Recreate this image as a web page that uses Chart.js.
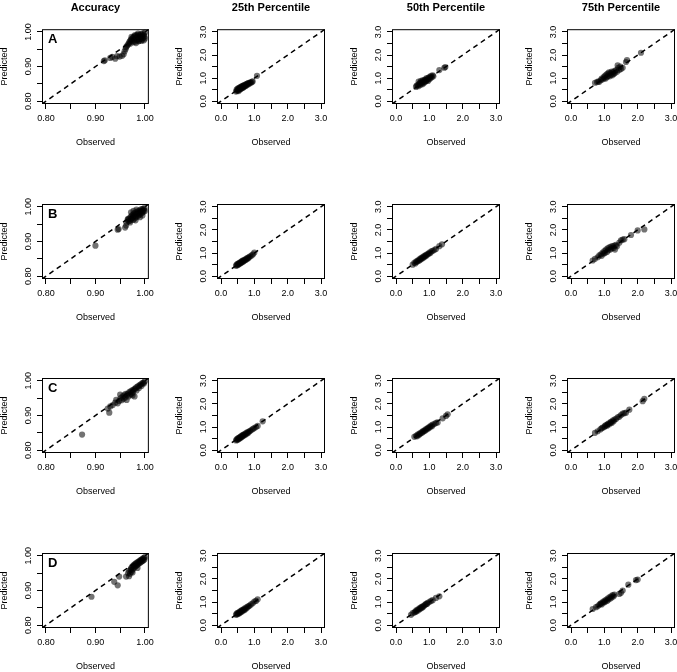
<!DOCTYPE html>
<html><head><meta charset="utf-8">
<script src="https://cdn.jsdelivr.net/npm/chart.js@4/dist/chart.umd.min.js"></script>
<style>
body{margin:0;width:677px;height:672px;overflow:hidden;background:#fff;position:relative}
.p{position:absolute}
</style></head><body>
<script>
const columnTitles = ['Accuracy','25th Percentile','50th Percentile','75th Percentile'];
const rowLetters = ['A','B','C','D'];
const accTicks = [0.80,0.85,0.90,0.95,1.00];
const accTickLabels = ['0.80','','0.90','','1.00'];
const pctTicks = [0,0.5,1,1.5,2,2.5,3];
const pctTickLabels = ['0.0','','1.0','','2.0','','3.0'];
const accRange = [0.792,1.008];
const pctRange = [-0.12,3.12];

// [observed, predicted]
const accA = [[0.917,0.916],[0.919,0.918],[0.930,0.925],[0.934,0.928],[0.940,0.923],[0.944,0.930],[0.949,0.929],[0.954,0.931],[0.957,0.936],[0.959,0.944],[0.961,0.951],[0.962,0.956],[0.964,0.960],[0.966,0.964],[0.968,0.968],[0.969,0.972],[0.971,0.976],[0.972,0.979],[0.974,0.974],[0.975,0.982],[0.977,0.985],[0.978,0.978],[0.979,0.988],[0.980,0.972],[0.981,0.983],[0.983,0.990],[0.984,0.977],[0.985,0.986],[0.986,0.980],[0.987,0.992],[0.988,0.975],[0.989,0.985],[0.990,0.990],[0.991,0.980],[0.992,0.994],[0.993,0.986],[0.994,0.978],[0.995,0.990],[0.996,0.996],[0.997,0.983],[0.998,0.992],[0.999,0.987],[1.000,0.998],[1.000,0.981],[0.976,0.970],[0.982,0.968],[0.987,0.973],[0.970,0.966],[0.973,0.986],[0.980,0.991],[0.986,0.995],[0.993,0.974],[0.998,0.976]];
const p25A = [[0.45,0.42],[0.47,0.50],[0.48,0.45],[0.50,0.55],[0.51,0.48],[0.52,0.52],[0.53,0.44],[0.54,0.58],[0.55,0.50],[0.56,0.55],[0.57,0.60],[0.58,0.52],[0.59,0.57],[0.60,0.62],[0.61,0.55],[0.62,0.60],[0.63,0.65],[0.64,0.57],[0.65,0.62],[0.66,0.67],[0.67,0.60],[0.68,0.65],[0.69,0.70],[0.70,0.63],[0.72,0.68],[0.73,0.72],[0.74,0.66],[0.76,0.71],[0.77,0.75],[0.79,0.70],[0.80,0.76],[0.82,0.79],[0.84,0.75],[0.86,0.80],[0.88,0.82],[0.90,0.80],[0.93,0.84],[0.95,0.86],[1.08,1.10]];
const p50A = [[0.60,0.62],[0.62,0.68],[0.65,0.70],[0.67,0.65],[0.68,0.85],[0.70,0.75],[0.72,0.80],[0.73,0.70],[0.75,0.88],[0.76,0.78],[0.78,0.82],[0.79,0.74],[0.80,0.90],[0.82,0.85],[0.83,0.78],[0.85,0.92],[0.86,0.84],[0.88,0.95],[0.89,0.86],[0.90,0.90],[0.92,1.00],[0.93,0.92],[0.95,0.96],[0.96,0.88],[0.98,1.02],[1.00,0.95],[1.01,1.05],[1.03,1.00],[1.05,1.10],[1.07,1.04],[1.10,1.12],[1.12,1.08],[1.30,1.35],[1.45,1.45],[1.48,1.48]];
const p75A = [[0.72,0.80],[0.78,0.83],[0.82,0.86],[0.85,0.84],[0.90,0.92],[0.92,0.98],[0.95,0.95],[0.98,1.05],[1.00,1.00],[1.02,1.10],[1.04,0.98],[1.06,1.15],[1.08,1.05],[1.10,1.20],[1.12,1.10],[1.14,1.25],[1.16,1.08],[1.18,1.22],[1.20,1.15],[1.22,1.28],[1.24,1.12],[1.26,1.25],[1.28,1.18],[1.30,1.30],[1.32,1.22],[1.35,1.35],[1.38,1.28],[1.40,1.55],[1.42,1.45],[1.45,1.35],[1.48,1.50],[1.50,1.40],[1.55,1.45],[1.65,1.70],[1.68,1.78],[2.10,2.10]];

const accB = [[0.900,0.888],[0.945,0.934],[0.947,0.936],[0.960,0.940],[0.962,0.946],[0.963,0.955],[0.965,0.962],[0.967,0.958],[0.968,0.966],[0.970,0.960],[0.971,0.970],[0.972,0.964],[0.973,0.974],[0.974,0.968],[0.975,0.977],[0.976,0.962],[0.977,0.972],[0.978,0.980],[0.979,0.966],[0.980,0.975],[0.981,0.983],[0.982,0.970],[0.983,0.978],[0.984,0.985],[0.985,0.973],[0.986,0.981],[0.987,0.988],[0.988,0.976],[0.989,0.984],[0.990,0.990],[0.991,0.979],[0.992,0.986],[0.993,0.993],[0.994,0.982],[0.995,0.988],[0.996,0.994],[0.997,0.985],[0.998,0.991],[0.999,0.996],[1.000,0.988],[0.970,0.955],[0.966,0.965],[0.972,0.984],[0.977,0.988],[0.983,0.992],[0.981,0.961],[0.990,0.970],[0.995,0.975]];
const p25B = [[0.45,0.45],[0.47,0.50],[0.49,0.47],[0.50,0.53],[0.52,0.50],[0.53,0.56],[0.55,0.53],[0.56,0.58],[0.58,0.56],[0.59,0.61],[0.61,0.58],[0.62,0.64],[0.64,0.61],[0.65,0.67],[0.67,0.64],[0.68,0.69],[0.70,0.67],[0.72,0.72],[0.74,0.70],[0.76,0.76],[0.78,0.74],[0.80,0.79],[0.82,0.78],[0.85,0.84],[0.88,0.86],[0.92,0.90],[0.96,0.95],[1.00,1.02]];
const p50B = [[0.50,0.50],[0.55,0.58],[0.58,0.55],[0.60,0.63],[0.63,0.62],[0.65,0.68],[0.68,0.66],[0.70,0.73],[0.72,0.70],[0.74,0.77],[0.76,0.74],[0.78,0.80],[0.80,0.78],[0.82,0.85],[0.84,0.82],[0.86,0.88],[0.88,0.86],[0.90,0.92],[0.92,0.90],[0.95,0.96],[0.98,0.97],[1.00,1.02],[1.03,1.00],[1.06,1.07],[1.10,1.10],[1.15,1.13],[1.20,1.18],[1.30,1.30],[1.38,1.38]];
const p75B = [[0.65,0.68],[0.72,0.75],[0.80,0.82],[0.85,0.90],[0.90,0.95],[0.92,0.88],[0.95,1.02],[0.98,0.98],[1.00,1.08],[1.02,1.00],[1.05,1.15],[1.08,1.05],[1.10,1.20],[1.12,1.12],[1.15,1.25],[1.18,1.15],[1.20,1.28],[1.22,1.20],[1.25,1.30],[1.28,1.22],[1.30,1.32],[1.32,1.15],[1.35,1.35],[1.38,1.30],[1.45,1.45],[1.50,1.55],[1.55,1.58],[1.60,1.60],[1.80,1.78],[2.00,1.98],[2.20,2.02]];

const accC = [[0.873,0.845],[0.925,0.920],[0.928,0.908],[0.930,0.926],[0.935,0.930],[0.940,0.937],[0.942,0.945],[0.945,0.935],[0.948,0.942],[0.950,0.960],[0.951,0.950],[0.953,0.944],[0.955,0.955],[0.957,0.948],[0.958,0.958],[0.960,0.952],[0.961,0.962],[0.963,0.945],[0.964,0.960],[0.966,0.964],[0.967,0.955],[0.969,0.968],[0.970,0.960],[0.972,0.970],[0.973,0.963],[0.975,0.973],[0.976,0.966],[0.978,0.975],[0.979,0.955],[0.980,0.977],[0.982,0.980],[0.983,0.972],[0.985,0.983],[0.987,0.985],[0.988,0.979],[0.990,0.988],[0.992,0.990],[0.993,0.985],[0.995,0.993],[0.997,0.995],[0.998,0.992],[1.000,0.999],[0.975,0.958]];
const p25C = [[0.45,0.42],[0.47,0.47],[0.49,0.44],[0.50,0.50],[0.52,0.47],[0.53,0.53],[0.55,0.50],[0.56,0.56],[0.58,0.53],[0.59,0.59],[0.61,0.56],[0.62,0.62],[0.64,0.59],[0.65,0.65],[0.67,0.62],[0.68,0.68],[0.70,0.65],[0.72,0.71],[0.74,0.68],[0.76,0.75],[0.78,0.72],[0.80,0.78],[0.82,0.76],[0.85,0.82],[0.88,0.84],[0.92,0.88],[0.96,0.92],[1.00,0.96],[1.05,1.00],[1.10,1.05],[1.25,1.25]];
const p50C = [[0.55,0.58],[0.60,0.62],[0.63,0.60],[0.65,0.67],[0.68,0.65],[0.70,0.72],[0.72,0.70],[0.75,0.76],[0.78,0.75],[0.80,0.82],[0.82,0.80],[0.85,0.86],[0.87,0.84],[0.90,0.91],[0.92,0.89],[0.95,0.96],[0.97,0.94],[1.00,1.01],[1.02,0.99],[1.05,1.06],[1.08,1.04],[1.10,1.11],[1.15,1.13],[1.20,1.18],[1.25,1.20],[1.40,1.38],[1.50,1.48],[1.55,1.55]];
const p75C = [[0.72,0.75],[0.80,0.82],[0.88,0.90],[0.92,0.95],[0.95,0.98],[1.00,1.00],[1.02,1.05],[1.05,1.08],[1.08,1.06],[1.10,1.12],[1.12,1.15],[1.15,1.12],[1.18,1.20],[1.20,1.22],[1.22,1.18],[1.25,1.28],[1.28,1.25],[1.30,1.32],[1.35,1.35],[1.40,1.42],[1.45,1.45],[1.50,1.52],[1.55,1.58],[1.60,1.60],[1.65,1.62],[1.75,1.75],[2.15,2.12],[2.20,2.22]];

const accD = [[0.892,0.882],[0.938,0.925],[0.945,0.915],[0.948,0.940],[0.962,0.940],[0.968,0.941],[0.966,0.950],[0.968,0.956],[0.970,0.948],[0.971,0.960],[0.972,0.964],[0.973,0.954],[0.974,0.968],[0.975,0.960],[0.976,0.971],[0.977,0.964],[0.978,0.974],[0.979,0.967],[0.980,0.976],[0.981,0.970],[0.982,0.978],[0.983,0.972],[0.984,0.980],[0.985,0.974],[0.986,0.982],[0.987,0.977],[0.988,0.984],[0.989,0.979],[0.990,0.986],[0.991,0.981],[0.992,0.988],[0.993,0.983],[0.994,0.990],[0.995,0.985],[0.996,0.992],[0.997,0.987],[0.998,0.994],[0.999,0.989],[1.000,0.996],[0.985,0.965],[0.975,0.952]];
const p25D = [[0.45,0.45],[0.47,0.50],[0.49,0.47],[0.50,0.53],[0.52,0.50],[0.54,0.56],[0.55,0.52],[0.57,0.59],[0.58,0.55],[0.60,0.62],[0.62,0.58],[0.63,0.65],[0.65,0.62],[0.67,0.68],[0.69,0.65],[0.70,0.72],[0.72,0.68],[0.75,0.76],[0.77,0.73],[0.80,0.80],[0.83,0.82],[0.86,0.85],[0.90,0.90],[0.95,0.95],[1.00,1.02],[1.05,1.05],[1.10,1.12]];
const p50D = [[0.45,0.45],[0.50,0.52],[0.55,0.55],[0.58,0.60],[0.60,0.58],[0.62,0.65],[0.65,0.63],[0.67,0.70],[0.70,0.68],[0.72,0.75],[0.74,0.72],[0.76,0.78],[0.78,0.76],[0.80,0.82],[0.82,0.80],[0.85,0.86],[0.88,0.88],[0.90,0.92],[0.93,0.92],[0.95,0.97],[1.00,1.00],[1.05,1.05],[1.10,1.08],[1.20,1.18],[1.30,1.25]];
const p75D = [[0.65,0.70],[0.75,0.78],[0.80,0.82],[0.85,0.88],[0.88,0.92],[0.90,0.95],[0.92,0.90],[0.95,1.00],[0.98,0.98],[1.00,1.05],[1.02,1.00],[1.05,1.10],[1.08,1.05],[1.10,1.15],[1.12,1.10],[1.15,1.20],[1.18,1.15],[1.20,1.25],[1.22,1.20],[1.25,1.30],[1.28,1.25],[1.30,1.32],[1.45,1.35],[1.50,1.40],[1.55,1.50],[1.72,1.75],[1.95,1.95],[2.00,1.97]];

const panelData = [
  [accA, p25A, p50A, p75A],
  [accB, p25B, p50B, p75B],
  [accC, p25C, p50C, p75C],
  [accD, p25D, p50D, p75D]
];

const FONT = "'Liberation Sans', Arial, Helvetica, sans-serif";
const boxLefts = [42, 217, 392, 567];
const boxTops = [29, 204, 378, 553];
const ML = 45, MT = 29, MR = 8, MB = 45, BW = 108, BH = 75;

const panelPlugin = {
  id: 'panelDeco',
  afterDraw(chart, args, opts) {
    const {ctx, chartArea: a, scales} = chart;
    ctx.save();
    ctx.strokeStyle = '#000';
    ctx.lineWidth = 1;
    ctx.strokeRect(a.left + 0.5, a.top + 0.5, a.right - a.left - 1, a.bottom - a.top - 1);
    ctx.fillStyle = '#000';
    ctx.font = '9px ' + FONT;
    ctx.textAlign = 'center';
    ctx.textBaseline = 'middle';
    opts.ticks.forEach((v, i) => {
      const lab = opts.labels[i];
      if (!lab) return;
      const y = scales.y.getPixelForValue(v);
      ctx.save();
      ctx.translate(a.left - 13, y);
      ctx.rotate(-Math.PI / 2);
      ctx.fillText(lab, 0, 0);
      ctx.restore();
    });
    if (opts.letter) {
      ctx.font = 'bold 13px ' + FONT;
      ctx.textAlign = 'left';
      ctx.textBaseline = 'middle';
      ctx.fillText(opts.letter, a.left + 6, a.top + 10);
    }
    ctx.restore();
  }
};

for (let r = 0; r < 4; r++) {
  for (let c = 0; c < 4; c++) {
    const isAcc = c === 0;
    const ticks = isAcc ? accTicks : pctTicks;
    const labels = isAcc ? accTickLabels : pctTickLabels;
    const range = isAcc ? accRange : pctRange;
    const pts = panelData[r][c].map(p => ({x: p[0], y: p[1]}));
    const div = document.createElement('div');
    div.className = 'p';
    div.style.left = (boxLefts[c] - ML) + 'px';
    div.style.top = (boxTops[r] - MT) + 'px';
    const cv = document.createElement('canvas');
    cv.width = ML + BW + MR; cv.height = MT + BH + MB;
    cv.style.width = cv.width + 'px'; cv.style.height = cv.height + 'px';
    div.appendChild(cv);
    document.body.appendChild(div);

    const axisCommon = () => ({
      type: 'linear',
      min: range[0], max: range[1],
      afterBuildTicks: s => { s.ticks = ticks.map(v => ({value: v})); },
      grid: {display: true, drawOnChartArea: false, drawTicks: true, tickLength: 5, color: '#000', lineWidth: 1},
      border: {display: false},
    });
    new Chart(cv, {
      data: {
        datasets: [
          {type: 'line', data: [{x: range[0], y: range[0]}, {x: range[1], y: range[1]}],
           borderColor: '#000', borderWidth: 1.5, borderDash: [5, 4], pointRadius: 0, fill: false, order: 2},
          {type: 'scatter', data: pts, pointRadius: 3.1, pointBackgroundColor: 'rgba(0,0,0,0.55)',
           pointBorderWidth: 0, pointBorderColor: 'rgba(0,0,0,0)', order: 1}
        ]
      },
      options: {
        responsive: false, animation: false, devicePixelRatio: 1,
        layout: {padding: {top: r === 0 ? 0 : MT, right: MR, left: 0, bottom: 0}},
        plugins: {
          legend: {display: false}, tooltip: {enabled: false},
          title: {display: r === 0, text: columnTitles[c], fullSize: false, color: '#000',
                  font: {family: FONT, size: 11, weight: 'bold'}, padding: {top: 1.5, bottom: 14.5}},
          panelDeco: {ticks: ticks, labels: labels, letter: isAcc ? rowLetters[r] : ''}
        },
        scales: {
          x: Object.assign(axisCommon(), {
            position: 'bottom',
            afterFit: s => { s.height = MB; },
            ticks: {autoSkip: false, maxRotation: 0, minRotation: 0, padding: 4, color: '#000',
                    font: {family: FONT, size: 9}, callback: (v, i) => labels[i]},
            title: {display: true, text: 'Observed', color: '#000', font: {family: FONT, size: 9},
                    padding: {top: 1.5, bottom: 1.5}}
          }),
          y: Object.assign(axisCommon(), {
            position: 'left',
            afterFit: s => { s.width = ML; },
            ticks: {autoSkip: false, color: '#000', font: {family: FONT, size: 9}, callback: () => ''},
            title: {display: true, text: 'Predicted', color: '#000', font: {family: FONT, size: 9},
                    padding: {top: 2.5, bottom: 2.5}}
          })
        }
      },
      plugins: [panelPlugin]
    });
  }
}
</script>
</body></html>
